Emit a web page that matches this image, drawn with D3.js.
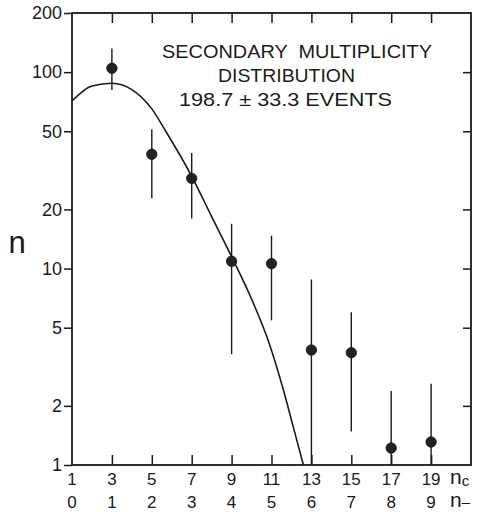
<!DOCTYPE html>
<html>
<head>
<meta charset="utf-8">
<script src="https://cdn.jsdelivr.net/npm/d3@7"></script>
<style>
  body { margin: 0; background: #fff; }
  svg text { font-family: "Liberation Sans", Arial, sans-serif; fill: #1a1a1a; }
</style>
</head>
<body>
<svg class="chart"></svg>
<script>
// charged multiplicity n_c, and matching n_- row
var ncValues = [3, 5, 7, 9, 11, 13, 15, 17, 19];
var counts   = [104.7, 38.2, 28.8, 10.9, 10.6, 3.85, 3.73, 1.22, 1.31];
var errHigh  = [132, 51.2, 38.7, 16.9, 14.7, 8.8, 6.0, 2.38, 2.59];
var errLow   = [81.2, 22.8, 18.0, 3.66, 5.45, 1, 1.48, 1, 1];

var ncTicks = [1, 3, 5, 7, 9, 11, 13, 15, 17, 19];
var nMinusTicks = [0, 1, 2, 3, 4, 5, 6, 7, 8, 9];
var yTicks = [1, 2, 5, 10, 20, 50, 100, 200];

// fitted curve
var curveNc = [1, 2, 3, 4, 5, 5.7, 7, 8, 9, 10, 10.8, 11.6, 12.1, 12.6];
var curveN  = [71.3, 85, 87.8, 81.5, 65, 50, 29.5, 18.4, 11.5, 7.0, 4.4, 2.4, 1.55, 1.0];

var width = 479, height = 512;
var margin = { top: 13, right: 8, bottom: 47, left: 72 };
var ink = "#1a1a1a";

var svg = d3.select(".chart")
  .attr("width", width)
  .attr("height", height);

var x = d3.scaleLinear().domain([1, 21]).range([margin.left, width - margin.right]);
var y = d3.scaleLog().domain([1, 200]).range([height - margin.bottom, margin.top]);

var plotLeft = x(1), plotRight = x(21), plotTop = y(200), plotBottom = y(1);

// frame
svg.append("rect")
  .attr("x", plotLeft).attr("y", plotTop)
  .attr("width", plotRight - plotLeft).attr("height", plotBottom - plotTop)
  .attr("fill", "none").attr("stroke", ink).attr("stroke-width", 1.8);

// left axis: outward ticks with labels
svg.append("g")
  .attr("transform", "translate(" + plotLeft + ",0)")
  .call(d3.axisLeft(y).tickValues(yTicks).tickFormat(d3.format("d")).tickSize(8).tickPadding(2))
  .call(function(g) { g.select(".domain").remove(); })
  .call(function(g) {
    g.selectAll("line").attr("stroke", ink).attr("stroke-width", 1.5);
    g.selectAll("text").style("font-size", "18px").attr("fill", ink);
  });

// right axis: inward ticks
svg.append("g")
  .attr("transform", "translate(" + plotRight + ",0)")
  .call(d3.axisLeft(y).tickValues(yTicks.slice(1, -1)).tickFormat("").tickSize(8))
  .call(function(g) { g.select(".domain").remove(); })
  .call(function(g) { g.selectAll("line").attr("stroke", ink).attr("stroke-width", 1.5); });

// bottom axis: inward ticks
svg.append("g")
  .attr("transform", "translate(0," + plotBottom + ")")
  .call(d3.axisTop(x).tickValues(ncTicks.slice(1)).tickFormat("").tickSize(10))
  .call(function(g) { g.select(".domain").remove(); })
  .call(function(g) { g.selectAll("line").attr("stroke", ink).attr("stroke-width", 1.5); });

// top axis: inward ticks
svg.append("g")
  .attr("transform", "translate(0," + plotTop + ")")
  .call(d3.axisBottom(x).tickValues(ncTicks.slice(1)).tickFormat("").tickSize(10))
  .call(function(g) { g.select(".domain").remove(); })
  .call(function(g) { g.selectAll("line").attr("stroke", ink).attr("stroke-width", 1.5); });

// two label rows under the axis
svg.append("g").selectAll("text")
  .data(ncTicks)
  .join("text")
  .attr("x", function(d) { return x(d); })
  .attr("y", plotBottom + 20)
  .attr("text-anchor", "middle")
  .style("font-size", "17px")
  .text(function(d) { return d; });

svg.append("g").selectAll("text")
  .data(nMinusTicks)
  .join("text")
  .attr("x", function(d, i) { return x(ncTicks[i]); })
  .attr("y", plotBottom + 43)
  .attr("text-anchor", "middle")
  .style("font-size", "17px")
  .text(function(d) { return d; });

// row names n_c and n_-
var ncLab = svg.append("text")
  .attr("x", 450).attr("y", plotBottom + 19)
  .style("font-size", "21px");
ncLab.append("tspan").text("n");
ncLab.append("tspan").attr("dy", 2).style("font-size", "15px").text("c");

var nmLab = svg.append("text")
  .attr("x", 450).attr("y", plotBottom + 42)
  .style("font-size", "21px");
nmLab.append("tspan").text("n");
nmLab.append("tspan").style("font-size", "15px").text("–");

// y axis name
svg.append("text")
  .attr("x", 17).attr("y", 253)
  .attr("text-anchor", "middle")
  .style("font-size", "31px")
  .text("n");

// clip to plot area
svg.append("clipPath").attr("id", "plot")
  .append("rect").attr("x", plotLeft).attr("y", plotTop)
  .attr("width", plotRight - plotLeft).attr("height", plotBottom - plotTop);

var plot = svg.append("g").attr("clip-path", "url(#plot)");

var curveData = curveNc.map(function(d, i) { return [d, curveN[i]]; });
var line = d3.line()
  .x(function(d) { return x(d[0]); })
  .y(function(d) { return y(d[1]); })
  .curve(d3.curveMonotoneX);

plot.append("path")
  .datum(curveData)
  .attr("d", line)
  .attr("fill", "none")
  .attr("stroke", ink)
  .attr("stroke-width", 1.6);

// error bars
plot.selectAll(".err")
  .data(ncValues)
  .join("line")
  .attr("class", "err")
  .attr("x1", function(d) { return x(d); })
  .attr("x2", function(d) { return x(d); })
  .attr("y1", function(d, i) { return y(errHigh[i]); })
  .attr("y2", function(d, i) { return y(errLow[i]); })
  .attr("stroke", ink)
  .attr("stroke-width", 1.4);

// points
plot.selectAll(".pt")
  .data(ncValues)
  .join("circle")
  .attr("class", "pt")
  .attr("cx", function(d) { return x(d); })
  .attr("cy", function(d, i) { return y(counts[i]); })
  .attr("r", 5.2)
  .attr("fill", "#222")
  .attr("stroke", "#111")
  .attr("stroke-width", 0.8);

// title block
var titleLines = ["SECONDARY  MULTIPLICITY", "DISTRIBUTION", "198.7 ± 33.3 EVENTS"];
var titleX = [162, 218, 179];
var titleW = [270, 137, 213];
svg.append("g").selectAll("text")
  .data(titleLines)
  .join("text")
  .attr("x", function(d, i) { return titleX[i]; })
  .attr("y", function(d, i) { return 57.5 + i * 24; })
  .attr("textLength", function(d, i) { return titleW[i]; })
  .attr("lengthAdjust", "spacingAndGlyphs")
  .style("font-size", "19px")
  .style("white-space", "pre")
  .text(function(d) { return d; });
</script>
</body>
</html>
